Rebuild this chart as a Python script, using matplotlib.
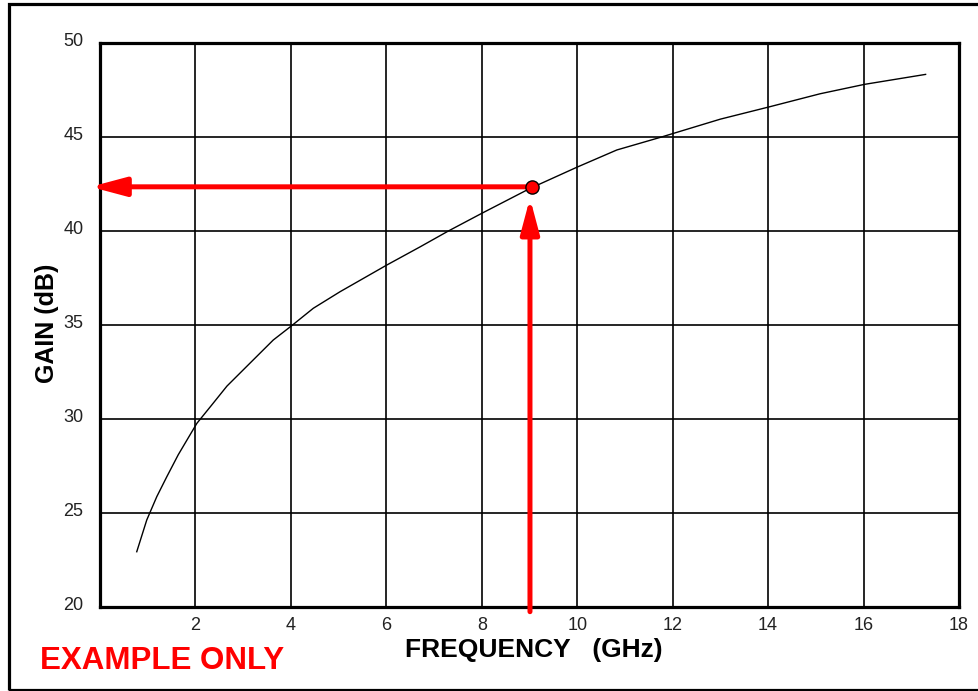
import matplotlib.pyplot as plt
from matplotlib.patches import Rectangle
from matplotlib.transforms import ScaledTranslation

plt.rcParams['font.family'] = ['Liberation Sans', 'DejaVu Sans']

# gain curve
freq = [0.77, 0.98, 1.19, 1.40, 1.64, 1.85, 2.03, 2.34, 2.66, 3.21, 3.63, 4.01, 4.47, 5.03,
        6.01, 6.71, 7.30, 8.0, 9.0, 10.0, 10.83, 11.74, 13.0, 14.02, 15.09, 16.02, 17.3]
gain = [22.94, 24.63, 25.87, 26.93, 28.1, 29.0, 29.77, 30.74, 31.75, 33.14, 34.2, 34.95, 35.89, 36.77,
        38.19, 39.16, 40.0, 40.94, 42.25, 43.4, 44.31, 44.98, 45.95, 46.6, 47.3, 47.8, 48.33]

# marked example point
pick_f = 9.05
pick_g = 42.35

x_ticks = [2, 4, 6, 8, 10, 12, 14, 16, 18]
y_ticks = [20, 25, 30, 35, 40, 45, 50]

fig = plt.figure(figsize=(9.79, 6.91), dpi=100)
ax = fig.add_axes([100 / 979, 1 - 607 / 691, 859 / 979, 564 / 691])
ax.set_xlim(0, 18)
ax.set_ylim(20, 50)

# grid lines drawn by hand so they sit under everything
for xv in x_ticks[:-1]:
    ax.axvline(xv, color='black', lw=1.2, zorder=1)
for yv in y_ticks[1:-1]:
    ax.axhline(yv, color='black', lw=1.2, zorder=1)

for s in ax.spines.values():
    s.set_linewidth(2.3)

ax.set_xticks(x_ticks)
ax.set_yticks(y_ticks)
ax.tick_params(length=0, labelsize=13, colors='#222222')
ax.tick_params(axis='x', pad=7)
ax.tick_params(axis='y', pad=12)
# y labels sit a little above their grid lines
nudge = ScaledTranslation(0, 2.5 / 72, fig.dpi_scale_trans)
for lab in ax.get_yticklabels():
    lab.set_transform(lab.get_transform() + nudge)

ax.plot(freq, gain, color='black', lw=1.0, zorder=3)

# red reading lines with arrows
red = '#ff0000'
ax.annotate('', xy=(-0.2, pick_g), xytext=(pick_f, pick_g),
            arrowprops=dict(arrowstyle='-|>,head_length=1.5,head_width=0.4',
                            mutation_scale=14, color=red, lw=3.6, shrinkA=0, shrinkB=0),
            annotation_clip=False, zorder=4)
ax.annotate('', xy=(pick_f - 0.04, 41.75), xytext=(pick_f - 0.04, 19.75),
            arrowprops=dict(arrowstyle='-|>,head_length=1.5,head_width=0.4',
                            mutation_scale=14, color=red, lw=3.6, shrinkA=0, shrinkB=0),
            annotation_clip=False, zorder=4)
ax.plot([pick_f], [pick_g], 'o', ms=9.5, mfc=red, mec='black', mew=1.0, zorder=5, clip_on=False)

fig.text(47 / 979, 1 - 323 / 691, 'GAIN (dB)', rotation=90, ha='center', va='center',
         fontsize=18, fontweight='bold')
fig.text(534 / 979, 1 - 650 / 691, 'FREQUENCY   (GHz)', ha='center', va='center',
         fontsize=19, fontweight='bold')
fig.text(40 / 979, 1 - 661 / 691, 'EXAMPLE ONLY', ha='left', va='center',
         fontsize=22.5, fontweight='bold', color=red)

# outer frame (right side runs off the picture)
fig.add_artist(Rectangle((9 / 979, 1 - 689.5 / 691), 1.2, (689.5 - 3.5) / 691,
                         transform=fig.transFigure, fill=False, lw=2.3, ec='black'))

fig.savefig('out.png', dpi=100)
